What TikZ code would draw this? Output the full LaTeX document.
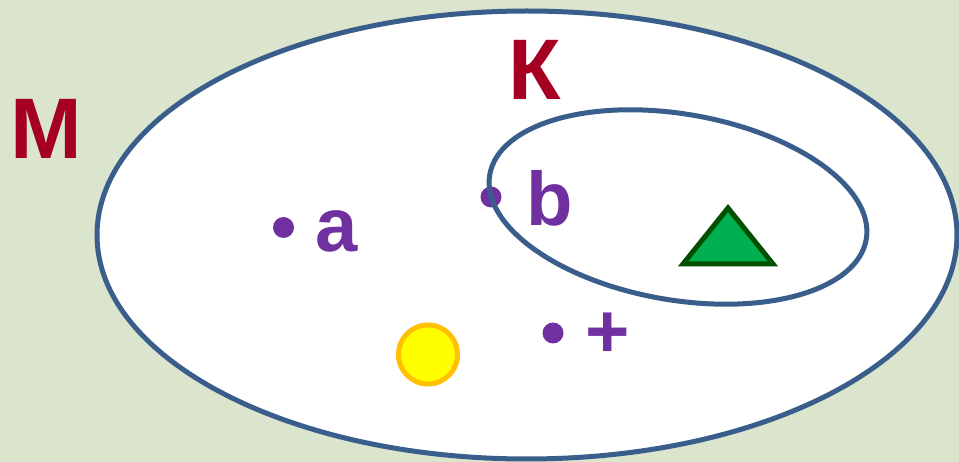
\documentclass[tikz,border=0pt]{standalone}
\usepackage{fontspec}
\setmainfont{Liberation Sans}
\definecolor{bgc}{RGB}{219,229,205}
\definecolor{setblue}{RGB}{58,94,140}
\definecolor{darkred}{RGB}{165,0,33}
\definecolor{violet}{RGB}{112,48,160}
\definecolor{trifill}{RGB}{0,176,80}
\definecolor{triline}{RGB}{0,80,0}
\definecolor{sunfill}{RGB}{255,255,0}
\definecolor{sunline}{RGB}{255,192,0}
\tikzset{
  setline/.style={draw=setblue, line width=5pt},
  setname/.style={text=darkred, font=\fontsize{86}{86}\selectfont\bfseries, inner sep=0pt, anchor=base},
  elem/.style={text=violet, font=\fontsize{76}{76}\selectfont\bfseries, inner sep=0pt, anchor=base},
  pt/.style={circle, fill=violet, minimum size=21pt, inner sep=0pt}
}
\begin{document}
\begin{tikzpicture}[x=1pt,y=-1pt]
\useasboundingbox (0,0) rectangle (959,462);
\fill[bgc] (0,0) rectangle (959,462);
% set M
\draw[setline, fill=white] (527,235) ellipse [x radius=430, y radius=224];
% elements
\node[pt] (pa) at (283.5,227.5) {};
\node[elem] (la) at (337,252) {a};
\node[pt] (pb) at (491,197) {};
\node[pt] (pp) at (553,333) {};
\node[elem] (lp) at (608,358) {+};
% set K
\begin{scope}[shift={(678,207)}, rotate=-9.75]
\draw[setline] (0,0) ellipse [x radius=191, y radius=93];
\end{scope}
\node[elem] (lb) at (549.5,226) {b};
% triangle
\draw[fill=trifill, draw=triline, line width=5pt, line join=miter] (728,208) -- (683,264) -- (773,264) -- cycle;
% sun
\draw[fill=sunfill, draw=sunline, line width=5pt] (428,354.5) circle [radius=29.5];
% names
\node[setname] (nm) at (46.5,159) {М};
\node[setname] (nk) at (534.5,100) {К};
\end{tikzpicture}
\end{document}
